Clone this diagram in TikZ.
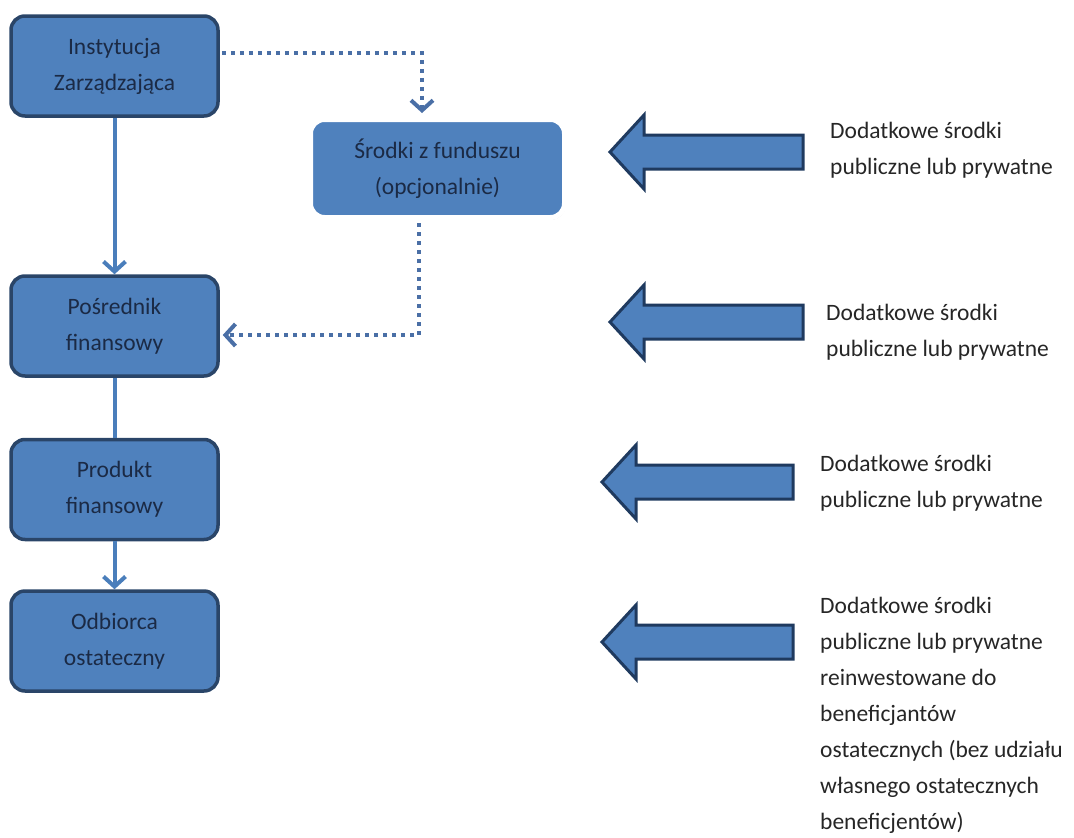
\documentclass[tikz,border=0pt]{standalone}
\usepackage{fontspec}
\setmainfont{Carlito}
\usetikzlibrary{arrows.meta,shadows}
\definecolor{boxblue}{HTML}{4F81BD}
\definecolor{boxline}{HTML}{2A4568}
\definecolor{boxtext}{HTML}{1B2A45}
\definecolor{linkblue}{HTML}{4A7EBB}
\definecolor{dotblue}{HTML}{4A6FA6}
\definecolor{arrowline}{HTML}{1F3A5F}
\definecolor{notetext}{HTML}{262626}
\begin{document}
\begin{tikzpicture}[x=1pt,y=-1pt]
\tikzstyle{box}=[rounded corners=14pt,fill=boxblue,draw=boxline,line width=3.5pt,minimum width=207pt,minimum height=100pt,align=center,text=boxtext,font=\fontsize{23.5}{36}\selectfont]
\tikzstyle{fundbox}=[box,draw=white,line width=5pt,minimum width=254pt,minimum height=98pt,drop shadow={shadow xshift=1pt,shadow yshift=-2pt,opacity=0.35,fill=black!60}]
\tikzstyle{edge}=[draw,line width=4pt,linkblue]
\tikzstyle{tip}=[-{Straight Barb[length=10pt,width=22pt]}]
\tikzstyle{dotedge}=[draw,line width=4pt,dotblue,dash pattern=on 4pt off 5pt,-{Straight Barb[length=10pt,width=22pt]}]
\tikzstyle{bigarrow}=[fill=boxblue,draw=arrowline,line width=3pt,line join=miter]
\tikzstyle{note}=[align=left,anchor=west,inner sep=0pt,text=notetext,font=\fontsize{23.5}{36}\selectfont]
\useasboundingbox (0,0) rectangle (1074,838);
% left column
\node[box] (iz) at (114.5,66) {Instytucja\\Zarządzająca};
\node[box] (pos) at (114.5,326) {Pośrednik\\finansowy};
\node[box] (prod) at (114.5,489.5) {Produkt\\finansowy};
\node[box] (odb) at (114.5,641) {Odbiorca\\ostateczny};
\node[fundbox] (fund) at (437.5,168.5) {Środki z funduszu\\(opcjonalnie)};
\path[edge,tip] (iz) -- (pos);
\path[edge] (pos) -- (prod);
\path[edge,tip] (prod) -- (odb);
\path[dotedge] ([xshift=2pt,yshift=13pt]iz.east) -| ([xshift=-15.5pt,yshift=4pt]fund.north);
\path[dotedge] ([xshift=-18.5pt,yshift=-3pt]fund.south) |- ([xshift=3pt,yshift=-9pt]pos.east);
% block arrows on the right
\foreach \tx/\ty/\rx in {610/152/803, 610/322/803, 602/482/793, 602/642/793}
  \draw[bigarrow] (\tx,\ty) -- (\tx+34,\ty-37) -- (\tx+34,\ty-17) -- (\rx,\ty-17) -- (\rx,\ty+17) -- (\tx+34,\ty+17) -- (\tx+34,\ty+37) -- cycle;
\node[note] (n1) at (830,150) {Dodatkowe środki\\publiczne lub prywatne};
\node[note] (n2) at (826,332) {Dodatkowe środki\\publiczne lub prywatne};
\node[note] (n3) at (820,483) {Dodatkowe środki\\publiczne lub prywatne};
\node[note] (n4) at (820,715) {Dodatkowe środki\\publiczne lub prywatne\\reinwestowane do\\beneficjantów\\ostatecznych (bez udziału\\własnego ostatecznych\\beneficjentów)};
\end{tikzpicture}
\end{document}
